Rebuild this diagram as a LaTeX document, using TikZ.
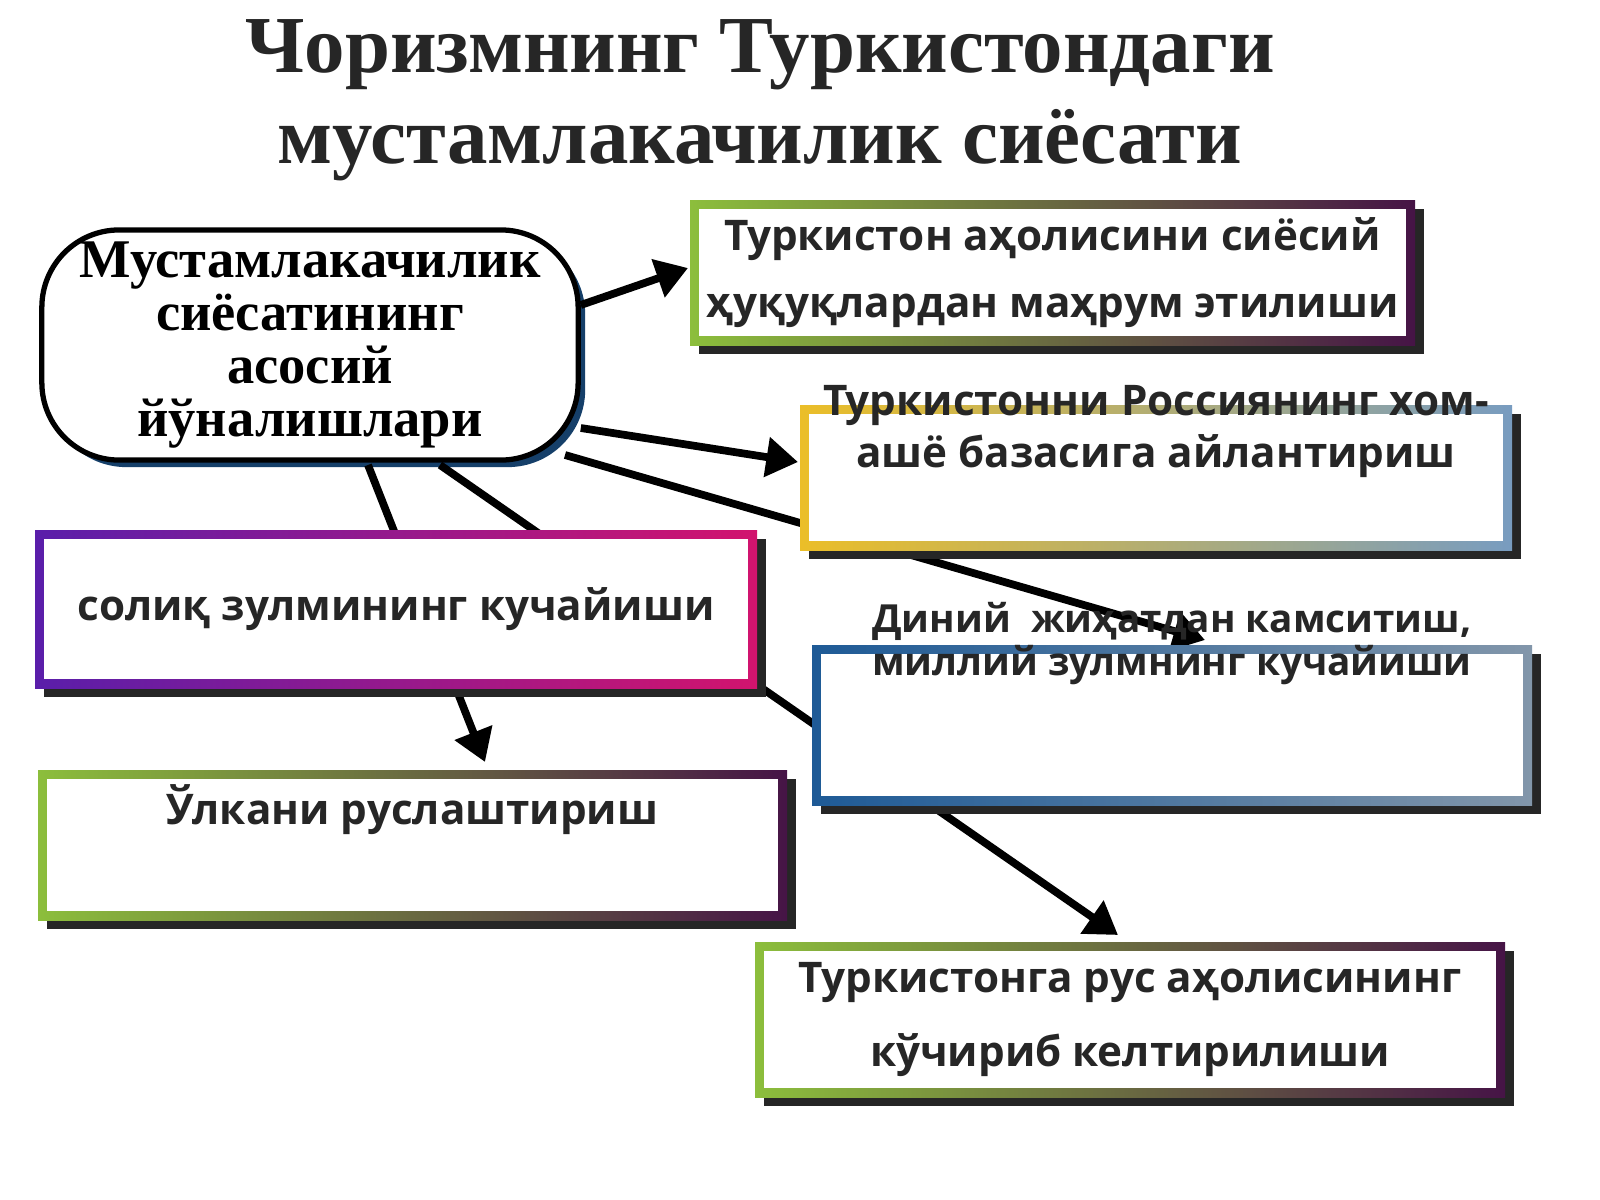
\documentclass[tikz,border=0pt]{standalone}
\usepackage{fontspec}
\setmainfont{Liberation Serif}
\newfontfamily\boxfont{Open Sans}
\usetikzlibrary{arrows.meta,shadows}
\definecolor{gA}{RGB}{140,190,60}
\definecolor{pA}{RGB}{210,20,110}
\definecolor{vA}{RGB}{70,20,70}
\definecolor{bA}{RGB}{30,90,150}
\definecolor{sA}{RGB}{130,150,170}
\definecolor{yA}{RGB}{235,190,40}
\definecolor{uA}{RGB}{90,30,170}
\tikzset{
 conn/.style={line width=2.2pt,-{Triangle[length=9pt,width=11pt]}},
 btext/.style={font=\boxfont\bfseries\fontsize{12}{15}\selectfont,align=center,text=black!85},
}
\newcommand{\gbox}[9]{%
 \fill[black!85] (#2+9,#3+9) rectangle (#4+9,#5+9);
 \shade[left color=#6,middle color=#7,right color=#8] (#2,#3) rectangle (#4,#5);
 \fill[white] (#2+9,#3+9) rectangle (#4-9,#5-9);
 \node[btext] (#1) at ({(#2+#4)/2},{(#3+#5)/2}) {#9};}
\begin{document}
\begin{tikzpicture}[x=0.01cm,y=-0.01cm]
\useasboundingbox (0,0) rectangle (1600,1200);
\fill[white] (0,0) rectangle (1600,1200);
\node[font=\bfseries\fontsize{23}{24}\selectfont,text=black!85,align=center] (title) at (760,100) {Чоризмнинг Туркистондаги\\[2pt]мустамлакачилик сиёсати};
\node[draw,fill=white,line width=1.5pt,rounded corners=22pt,minimum width=5.36cm,minimum height=2.3cm,align=center,font=\bfseries\fontsize{15.5}{15}\selectfont,drop shadow={fill=bA!70!black,shadow xshift=2pt,shadow yshift=-2pt,opacity=1}] (main) at (310,345) {Мустамлакачилик\\сиёсатининг\\асосий\\йўналишлари};
\coordinate (s3) at (565,455); \coordinate (s4) at (368,465); \coordinate (s5) at (440,465);
\coordinate (e3) at (1205,640); \coordinate (e4) at (485,762); \coordinate (e6) at (1118,935);
\draw[conn] (s3) -- (e3);
\draw[conn] (s4) -- (e4);
\draw[conn] (s5) -- (e6);
\gbox{b1}{690}{200}{1415}{345}{gA}{pA}{vA}{Туркистон аҳолисини сиёсий\\[4pt]ҳуқуқлардан маҳрум этилиши}
\gbox{b2}{800}{405}{1512}{550}{yA}{gA!70!yellow}{bA!60}{Туркистонни Россиянинг хом-\\ашё базасига айлантириш\\[14pt]}
\gbox{b3}{35}{530}{757}{688}{uA}{pA!70!purple}{pA}{солиқ зулмининг кучайиши}
\gbox{b4}{812}{645}{1532}{805}{bA}{sA!60}{sA}{\fontsize{11}{12}\selectfont Диний\ \ жиҳатдан камситиш,\\[-3pt]\fontsize{11}{12}\selectfont миллий зулмнинг кучайиши\\[34pt]}
\gbox{b5}{38}{770}{787}{920}{gA}{pA}{vA}{Ўлкани руслаштириш\\[8pt]}
\gbox{b6}{755}{942}{1505}{1097}{gA}{pA}{vA}{Туркистонга рус аҳолисининг\\[6pt]кўчириб келтирилиши}
\coordinate (t1) at (688,268); \coordinate (t2) at (798,462);
\draw[conn] (main.east |- 0,305) -- (t1);
\draw[conn] (main.east |- 0,428) -- (t2);
\end{tikzpicture}
\end{document}
